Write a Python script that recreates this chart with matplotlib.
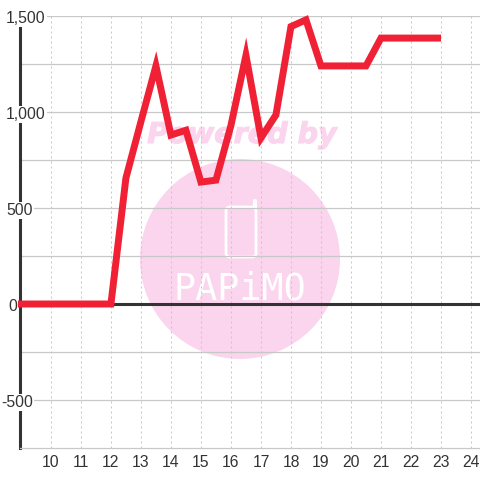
import matplotlib
matplotlib.use("Agg")
import matplotlib.pyplot as plt
import matplotlib.patheffects as pe
from matplotlib.patches import Circle, FancyBboxPatch

hours = [8.9, 10, 11, 12, 12.5, 13, 13.5, 14, 14.5, 15, 15.5, 16, 16.5, 17, 17.5, 18, 18.5, 19, 20, 20.5, 21, 22, 23]
values = [0, 0, 0, 0, 656, 950, 1240, 880, 905, 635, 645, 930, 1295, 865, 985, 1445, 1480, 1240, 1240, 1240, 1385, 1385, 1385]
x_ticks = list(range(10, 25))
y_major = [-500, 0, 500, 1000, 1500]
y_minor = [-250, 250, 750, 1250]
y_labels = ["-500", "0", "500", "1,000", "1,500"]
y_label_offsets = [-19, -12, -14, -14, -14]

INK = "#333333"
GRID = "#c8c8c8"
PINK = "#fbd5ee"
RED = "#f02035"

plt.rcParams["font.family"] = ["Liberation Sans", "DejaVu Sans"]

fig = plt.figure(figsize=(4.8, 4.8), dpi=100, facecolor="white")

# watermark sits under the chart, in pixel coordinates
bg = fig.add_axes([0, 0, 1, 1], zorder=0)
bg.set_xlim(0, 480)
bg.set_ylim(480, 0)
bg.axis("off")
bg.add_patch(Circle((240, 259), 100, color=PINK, lw=0))
bg.text(242, 135, "Powered by", color=PINK, fontsize=20.6, fontweight="bold", style="italic",
        family="DejaVu Sans", ha="center", va="center",
        path_effects=[pe.withStroke(linewidth=0.8, foreground=PINK)])
bg.add_patch(FancyBboxPatch((226, 207), 30, 50, boxstyle="round,pad=0,rounding_size=4",
                            fc="none", ec="white", lw=2))
bg.plot([254.5, 254.5], [207, 201], color="white", lw=3, solid_capstyle="round")
bg.text(240, 289, "PAPiMO", color="white", fontsize=26.5, family="DejaVu Sans Mono",
        ha="center", va="center")

ax = fig.add_axes([20 / 480, 32 / 480, 460 / 480, 432 / 480], zorder=1)
ax.patch.set_alpha(0)
ax.set_xlim(8.97, 24.3)
ax.set_ylim(-750, 1500)

ax.set_xticks(x_ticks)
ax.set_yticks(y_major)
ax.set_yticks(y_minor, minor=True)
ax.set_yticklabels([])
ax.grid(axis="x", color=GRID, lw=0.75, ls=(0, (1.92, 2.88)), zorder=1)
ax.grid(axis="y", which="both", color=GRID, lw=0.9, zorder=1)
ax.tick_params(axis="both", which="both", length=0)
ax.tick_params(axis="x", labelsize=11.3, labelcolor=INK, pad=5)
ax.set_axisbelow(True)

for side in ("top", "right"):
    ax.spines[side].set_visible(False)
ax.spines["bottom"].set_color(GRID)
ax.spines["bottom"].set_linewidth(0.9)
ax.spines["left"].set_color(INK)
ax.spines["left"].set_linewidth(2.2)

ax.axhline(0, color=INK, lw=2.2, zorder=2)
ax.plot(hours, values, color=RED, lw=5, solid_joinstyle="miter", solid_capstyle="butt",
        zorder=3, clip_on=False)

# y labels are written over the axis line on a white plate
for value, label, offset in zip(y_major, y_labels, y_label_offsets):
    ax.annotate(label, (0, value), xycoords=("axes fraction", "data"), xytext=(offset, -1),
                textcoords="offset pixels", ha="left", va="center_baseline", fontsize=11.3, color=INK,
                annotation_clip=False, zorder=5,
                bbox=dict(fc="white", ec="none", pad=1.0))

fig.savefig("out.png", dpi=100, facecolor="white")
